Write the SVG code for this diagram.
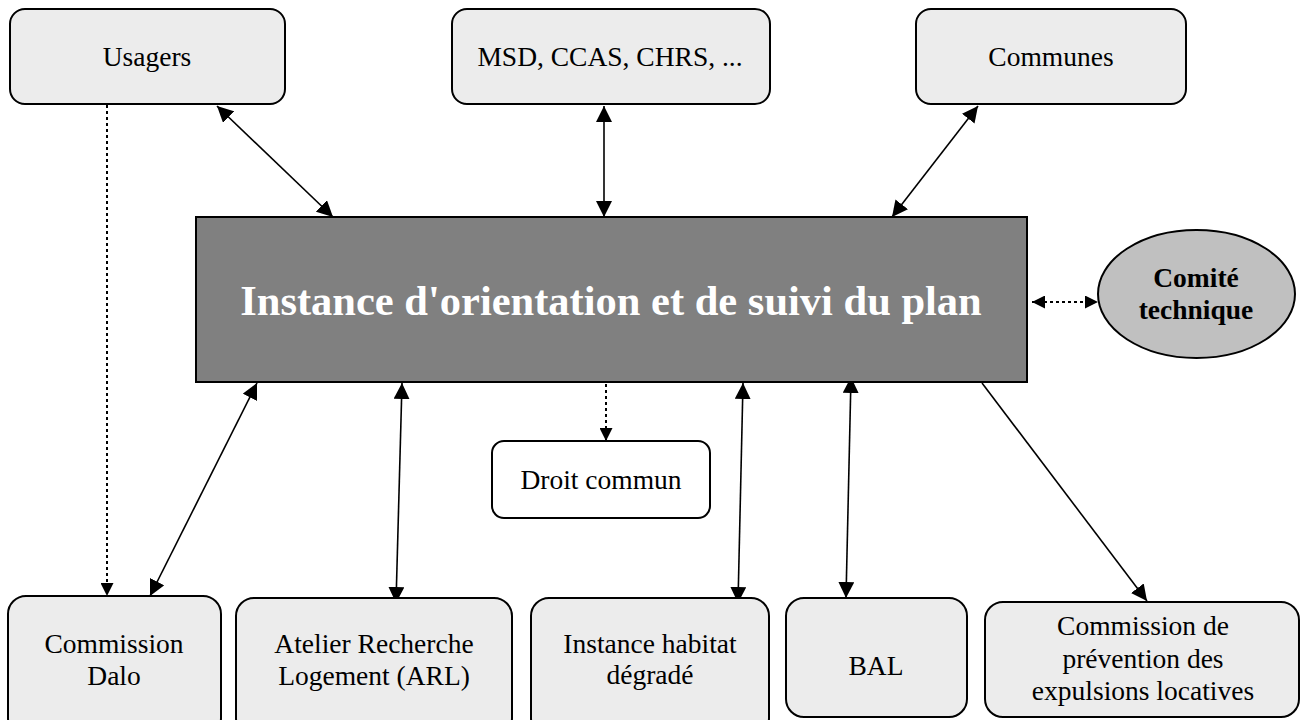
<svg xmlns="http://www.w3.org/2000/svg" width="1301" height="720" viewBox="0 0 1301 720">
<style>
.box{fill:#ececec;stroke:#000;stroke-width:2}
.wbox{fill:#fff;stroke:#000;stroke-width:2}
.t{font-family:"Liberation Serif","Times New Roman",serif;font-size:27.5px;fill:#000;text-anchor:middle}
.tb{font-family:"Liberation Serif","Times New Roman",serif;font-size:27.5px;font-weight:bold;fill:#000;text-anchor:middle}
.title{font-family:"Liberation Serif","Times New Roman",serif;font-size:42.5px;font-weight:bold;fill:#fff;text-anchor:middle}
.ln{stroke:#000;stroke-width:1.6;fill:none}
.dot{stroke:#000;stroke-width:2;fill:none;stroke-dasharray:3 3}
</style>
<defs>
<marker id="ah" viewBox="0 0 10 10" refX="10" refY="5" markerUnits="userSpaceOnUse" markerWidth="16" markerHeight="16" orient="auto-start-reverse">
<path d="M0,0 L10,5 L0,10 z" fill="#000"/>
</marker>
<marker id="ahs" viewBox="0 0 10 10" refX="10" refY="5" markerUnits="userSpaceOnUse" markerWidth="13" markerHeight="13" orient="auto-start-reverse">
<path d="M0,0 L10,5 L0,10 z" fill="#000"/>
</marker>
</defs>
<rect width="1301" height="720" fill="#fff"/>
<g id="connectors">
<line class="ln" x1="217" y1="106" x2="333" y2="217" marker-start="url(#ah)" marker-end="url(#ah)"/>
<line class="ln" x1="604" y1="106" x2="604" y2="217" marker-start="url(#ah)" marker-end="url(#ah)"/>
<line class="ln" x1="978" y1="106" x2="892" y2="217" marker-start="url(#ah)" marker-end="url(#ah)"/>
<line class="dot" x1="1032" y1="302" x2="1098" y2="302" marker-start="url(#ahs)" marker-end="url(#ahs)"/>
<line class="dot" x1="107" y1="105" x2="107" y2="596" marker-end="url(#ahs)"/>
<line class="ln" x1="257" y1="383" x2="150" y2="596" marker-start="url(#ah)" marker-end="url(#ah)"/>
<line class="ln" x1="402" y1="383" x2="396" y2="603" marker-start="url(#ah)" marker-end="url(#ah)"/>
<line class="dot" x1="606" y1="384" x2="606" y2="441" marker-end="url(#ahs)"/>
<line class="ln" x1="743" y1="383" x2="738" y2="603" marker-start="url(#ah)" marker-end="url(#ah)"/>
<line class="ln" x1="851" y1="377" x2="846" y2="598" marker-start="url(#ah)" marker-end="url(#ah)"/>
<line class="ln" x1="982" y1="383" x2="1147" y2="601" marker-end="url(#ah)"/>
</g>
<g id="usagers">
<rect class="box" x="10" y="9" width="275" height="95" rx="15"/>
<text class="t" x="147" y="66">Usagers</text>
</g>
<g id="msd">
<rect class="box" x="452" y="9" width="318" height="95" rx="15"/>
<text class="t" x="610" y="66">MSD, CCAS, CHRS, ...</text>
</g>
<g id="communes">
<rect class="box" x="916" y="9" width="270" height="95" rx="15"/>
<text class="t" x="1051" y="66">Communes</text>
</g>
<g id="instance">
<rect x="196" y="217" width="831" height="165" fill="#808080" stroke="#000" stroke-width="2"/>
<text class="title" x="611" y="315">Instance d'orientation et de suivi du plan</text>
</g>
<g id="comite">
<ellipse cx="1196.5" cy="294" rx="98.5" ry="64" fill="#c0c0c0" stroke="#000" stroke-width="2"/>
<text class="tb" x="1196" y="287">Comité</text>
<text class="tb" x="1196" y="319">technique</text>
</g>
<g id="droit">
<rect class="wbox" x="492" y="441" width="218" height="77" rx="12"/>
<text class="t" x="601" y="489">Droit commun</text>
</g>
<g id="dalo">
<rect class="box" x="8" y="596" width="213" height="140" rx="18"/>
<text class="t" x="114" y="653">Commission</text>
<text class="t" x="114" y="685">Dalo</text>
</g>
<g id="arl">
<rect class="box" x="236" y="598" width="276" height="138" rx="18"/>
<text class="t" x="374" y="653">Atelier Recherche</text>
<text class="t" x="374" y="685">Logement (ARL)</text>
</g>
<g id="habitat">
<rect class="box" x="531" y="598" width="238" height="138" rx="18"/>
<text class="t" x="650" y="653">Instance habitat</text>
<text class="t" x="650" y="684">dégradé</text>
</g>
<g id="bal">
<rect class="box" x="786" y="598" width="181" height="119" rx="18"/>
<text class="t" x="876" y="675">BAL</text>
</g>
<g id="prevention">
<rect class="box" x="985" y="602" width="314" height="115" rx="18"/>
<text class="t" x="1143" y="635">Commission de</text>
<text class="t" x="1143" y="668">prévention des</text>
<text class="t" x="1143" y="700">expulsions locatives</text>
</g>
</svg>
